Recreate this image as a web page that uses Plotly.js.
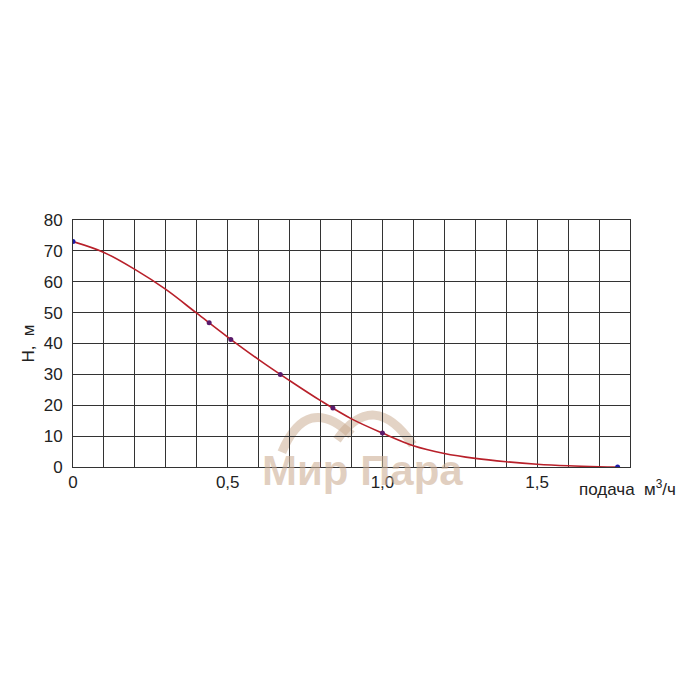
<!DOCTYPE html>
<html>
<head>
<meta charset="utf-8">
<script src="https://cdn.plot.ly/plotly-3.0.1.min.js"></script>
<style>html,body{margin:0;padding:0;background:#fff;}#chart{width:700px;height:700px;}</style>
</head>
<body>
<div id="chart"></div>
<script>
// Curve (подача, м3/ч vs напор H, м)
const curveQ = [0, 0.1, 0.2, 0.3, 0.4, 0.5, 0.6, 0.7, 0.8, 0.9, 1.0, 1.1, 1.2, 1.3, 1.4, 1.5, 1.6, 1.7, 1.76];
const curveH = [73, 69.5, 64, 57.5, 49.8, 42.1, 34.8, 28, 21.5, 15.6, 11, 6.9, 4.4, 2.8, 1.7, 0.9, 0.4, 0.1, 0];
// Measured points (markers)
const pointQ = [0, 0.44, 0.51, 0.67, 0.84, 1.0, 1.76];
const pointH = [73, 46.7, 41.3, 30, 19.1, 11, 0];
const pointColors = ['#1c1ca8', '#5a1a6a', '#5a1a6a', '#5a1a6a', '#5a1a6a', '#5a1a6a', '#1c1ca8'];
// Axis ticks
const xTickVals = [0, 0.1, 0.2, 0.3, 0.4, 0.5, 0.6, 0.7, 0.8, 0.9, 1.0, 1.1, 1.2, 1.3, 1.4, 1.5, 1.6, 1.7, 1.8];
const xTickText = ['0', ' ', ' ', ' ', ' ', '0,5', ' ', ' ', ' ', ' ', '1,0', ' ', ' ', ' ', ' ', '1,5', ' ', ' ', ' '];
const yTickVals = [0, 10, 20, 30, 40, 50, 60, 70, 80];
const yTickText = ['0', '10', '20', '30', '40', '50', '60', '70', '80'];

const font = 'Liberation Sans, Arial, sans-serif';
const wm = 'rgba(200,168,140,0.5)';

const traces = [
  {x: curveQ, y: curveH, mode: 'lines', type: 'scatter',
   line: {color: '#b8202a', width: 1.6, shape: 'spline', smoothing: 1.0},
   hoverinfo: 'skip', showlegend: false},
  {x: pointQ, y: pointH, mode: 'markers', type: 'scatter',
   marker: {color: pointColors, size: 5}, showlegend: false}
];

const layout = {
  width: 700, height: 700,
  margin: {l: 73, r: 70, t: 220, b: 233},
  paper_bgcolor: '#fff', plot_bgcolor: '#fff',
  font: {family: font, size: 17, color: '#222'},
  showlegend: false,
  xaxis: {
    range: [0, 1.8], tickmode: 'array', tickvals: xTickVals, ticktext: xTickText,
    showgrid: true, gridcolor: '#333', gridwidth: 1, zeroline: false,
    showline: true, linecolor: '#333', mirror: true, ticks: '',
    tickfont: {family: font, size: 17, color: '#222'}, fixedrange: true
  },
  yaxis: {
    range: [0, 80], tickmode: 'array', tickvals: yTickVals, ticktext: yTickText,
    showgrid: true, gridcolor: '#333', gridwidth: 1, zeroline: false,
    showline: true, linecolor: '#333', mirror: true, ticks: '', ticklabelstandoff: 6,
    tickfont: {family: font, size: 17, color: '#222'},
    title: {text: 'Н,  м', font: {family: font, size: 17, color: '#222'}, standoff: 4},
    fixedrange: true
  },
  shapes: [
    {type: 'path', xref: 'paper', yref: 'paper', layer: 'below',
     path: 'M 0.375 0.06 Q 0.42 0.30 0.50 0.13', line: {color: wm, width: 9}},
    {type: 'path', xref: 'paper', yref: 'paper', layer: 'below',
     path: 'M 0.474 0.11 Q 0.54 0.32 0.61 0.09', line: {color: wm, width: 9}}
  ],
  annotations: [
    {text: 'Мир Пара', xref: 'paper', yref: 'paper', x: 0.52, y: -0.015,
     xanchor: 'center', yanchor: 'middle', showarrow: false,
     font: {family: font, size: 42, color: 'rgba(205,175,150,0.6)', weight: 'bold'}},
    {text: 'подача  м<sup>3</sup>/ч', xref: 'paper', yref: 'paper', x: 0.905, y: -0.085,
     xanchor: 'left', yanchor: 'middle', showarrow: false,
     font: {family: font, size: 17, color: '#222'}}
  ]
};

Plotly.newPlot('chart', traces, layout, {staticPlot: true, displayModeBar: false});
</script>
</body>
</html>
